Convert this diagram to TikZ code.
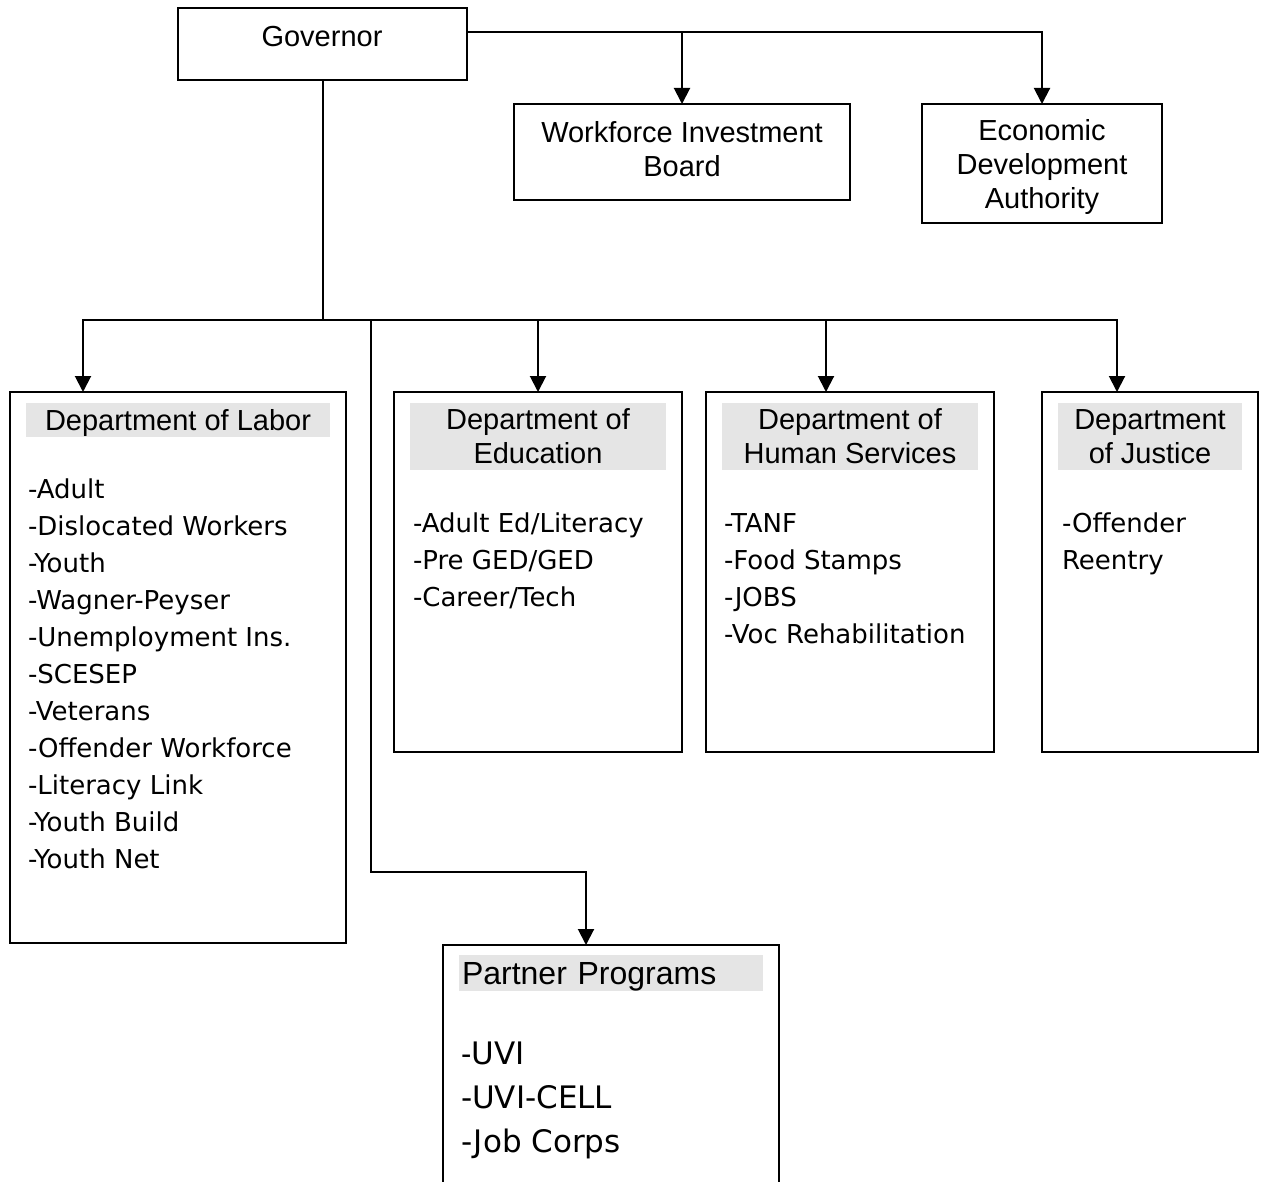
\documentclass[tikz,border=0pt]{standalone}
\usepackage{fontspec}
\setmainfont{Liberation Sans}
\newfontfamily\listfont{DejaVu Sans}
\usetikzlibrary{positioning,arrows.meta}

\begin{document}
\begin{tikzpicture}[
		x=0.5pt, y=-0.5pt,
		every node/.style={inner sep=0pt, outer sep=0pt},
		box/.style={draw, line width=1pt, anchor=north west},
		headfont/.style={font=\fontsize{14.5}{17}\selectfont},
		head/.style={fill=gray!20, align=center, headfont},
		items/.style={anchor=north west, align=left, font=\listfont\fontsize{13}{18.5}\selectfont},
		link/.style={line width=1pt},
		arrow/.style={link, -{Triangle[width=8pt,length=8pt]}}
		]
		\useasboundingbox (0,0) rectangle (1264,1182);
		\node[box, minimum width=144.5pt, minimum height=36pt] (gov) at (178,8) {};
		\node[headfont] (govtext) at (322,37) {Governor};
		\node[box, minimum width=168pt, minimum height=48pt, align=center, headfont, text depth=3pt] (wib) at (514,104) {Workforce Investment\\Board};
		\node[box, minimum width=120pt, minimum height=59.5pt, align=center, headfont, text depth=0pt] (eda) at (922,104) {Economic\\Development\\Authority};
		\node[box, minimum width=168pt, minimum height=275.5pt] (labor) at (10,392) {};
		\node[head, minimum width=152pt, minimum height=17pt, text depth=0pt, below=5.5pt of labor.north] (laborhead) {Department of Labor};
		\node[items] (laboritems) at (28,479) {-Adult\\-Dislocated Workers\\-Youth\\-Wagner-Peyser\\-Unemployment Ins.\\-SCESEP\\-Veterans\\-Offender Workforce\\-Literacy Link\\-Youth Build\\-Youth Net};
		\node[box, minimum width=144pt, minimum height=180pt] (educ) at (394,392) {};
		\node[head, minimum width=128pt, minimum height=33.5pt, below=5.5pt of educ.north] (educhead) {Department of\\Education};
		\node[items] (educitems) at (413,513) {-Adult Ed/Literacy\\-Pre GED/GED\\-Career/Tech};
		\node[box, minimum width=144pt, minimum height=180pt] (hums) at (706,392) {};
		\node[head, minimum width=128pt, minimum height=33.5pt, below=5.5pt of hums.north] (humshead) {Department of\\Human Services};
		\node[items] (humsitems) at (724,514) {-TANF\\-Food Stamps\\-JOBS\\-Voc Rehabilitation};
		\node[box, minimum width=108pt, minimum height=180pt] (just) at (1042,392) {};
		\node[head, minimum width=92pt, minimum height=33.5pt, below=5.5pt of just.north] (justhead) {Department\\of Justice};
		\node[items] (justitems) at (1062,513) {-Offender\\Reentry};
		\node[box, minimum width=168pt, minimum height=125pt] (partner) at (443,945) {};
		\node[head, inner xsep=1.5pt, text width=149pt, minimum height=18pt, text depth=0pt, align=left, font=\fontsize{16}{19}\selectfont, below=5pt of partner.north] (partnerhead) {Partner Programs};
		\node[items, font=\listfont\fontsize{15.5}{22}\selectfont] (partneritems) at (461,1042) {{\normalfont -}UVI\\-UVI-CELL\\-Job Corps};
		\coordinate (bus) at (322.5,320);
		\coordinate (tap) at (371,320);
		\coordinate (bend) at (371,872);
		\draw[link] (gov.south) -- (bus);
		\draw[arrow] (bus) -| ([xshift=36.5pt]labor.north west);
		\draw[arrow] (bus) -| (educ.north);
		\draw[arrow] (bus) -| ([xshift=60pt]hums.north west);
		\draw[arrow] (bus) -| ([xshift=37.5pt]just.north west);
		\draw[arrow] (tap) -- (bend) -| ([xshift=71.5pt]partner.north west);
		\draw[arrow] ([yshift=6pt]gov.east) -| (wib.north);
		\draw[arrow] ([yshift=6pt]gov.east) -| (eda.north);
\end{tikzpicture}
\end{document}
